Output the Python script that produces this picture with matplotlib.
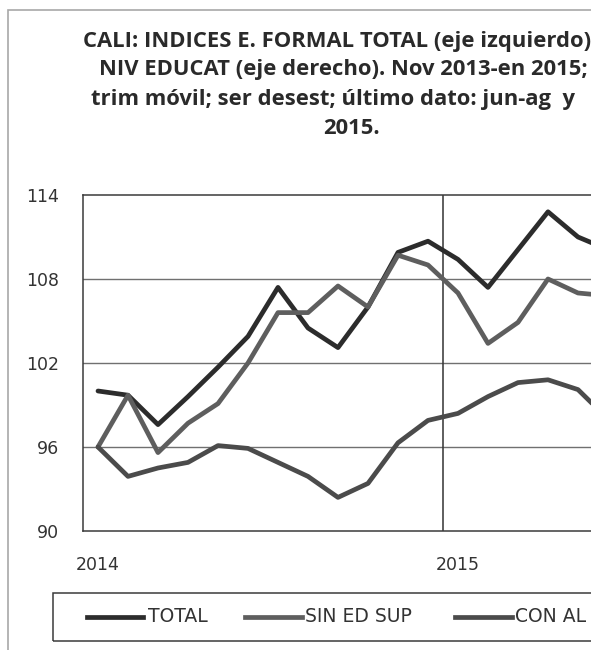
import matplotlib
matplotlib.use('Agg')
import matplotlib.pyplot as plt
from matplotlib.lines import Line2D
from matplotlib.patches import Rectangle

# datos (parte visible)
total = [100.0, 99.7, 97.6, 99.6, 101.7, 103.9, 107.4, 104.5, 103.1, 106.0,
         109.9, 110.7, 109.4, 107.4, 110.1, 112.8, 111.0, 110.1]
sin_ed_sup = [96.0, 99.7, 95.6, 97.7, 99.1, 102.0, 105.6, 105.6, 107.5, 106.0,
              109.7, 109.0, 107.0, 103.4, 104.9, 108.0, 107.0, 106.8]
con_al = [96.0, 93.9, 94.5, 94.9, 96.1, 95.9, 94.9, 93.9, 92.4, 93.4,
          96.3, 97.9, 98.4, 99.6, 100.6, 100.8, 100.1, 98.0]
year_labels = ['2014', '2015']
year_pos = [0, 12]
series_names = ['TOTAL', 'SIN ED SUP', 'CON AL']
colors = ['#2c2c2c', '#5e5e5e', '#4b4b4b']

W, H = 591, 650
fig = plt.figure(figsize=(W / 100, H / 100), dpi=100)

def fx(px):
    return px / W

def fy(py):
    return 1 - py / H

txt = '#333333'

# marco exterior
fig.add_artist(Rectangle((fx(7.5), fy(700)), fx(800), fy(10) - fy(700),
                         transform=fig.transFigure, fill=False,
                         edgecolor='#a8a8a8', lw=1.2))

# titulo (cortado a la derecha como en la captura)
title_lines = [
    (83, 42, 'CALI: INDICES E. FORMAL TOTAL (eje izquierdo) y POR'),
    (99, 70, 'NIV EDUCAT (eje derecho). Nov 2013-en 2015;'),
    (91, 99, 'trim móvil; ser desest; último dato: jun-ag  y'),
    (323, 128, '2015.'),
]
for x, y, s in title_lines:
    fig.text(fx(x), fy(y), s, ha='left', va='center', fontsize=15.8,
             fontweight='bold', family='Open Sans', color='#2a2a2a')

n = len(total)
ax = fig.add_axes([fx(83), fy(531), n * 30 / W, (531 - 195) / H])
x = list(range(n))
for vals, c in zip([total, sin_ed_sup, con_al], colors):
    ax.plot(x, vals, color=c, lw=3.4, solid_joinstyle='round', solid_capstyle='round')

ax.set_xlim(-0.5, n - 0.5)
ax.set_ylim(90, 114)
ax.set_yticks([90, 96, 102, 108, 114])
ax.set_xticks(year_pos)
ax.set_xticklabels(year_labels)
for yv in [96, 102, 108]:
    ax.axhline(yv, color='#707070', lw=1.0, zorder=0)
ax.axvline(11.5, color='#333333', lw=1.1, zorder=0)
ax.tick_params(axis='both', length=0, labelsize=12.5, colors=txt)
ax.tick_params(axis='y', pad=17)
ax.tick_params(axis='x', pad=18)
for side in ['left', 'top', 'bottom']:
    ax.spines[side].set_color('#3a3a3a')
    ax.spines[side].set_linewidth(1.1)
ax.spines['right'].set_visible(False)

# leyenda
fig.add_artist(Rectangle((fx(53), fy(641)), fx(800), fy(593) - fy(641),
                         transform=fig.transFigure, fill=False,
                         edgecolor='#3a3a3a', lw=1.1))
leg = [(87, 143, 148), (245, 302, 305), (455, 512, 515)]
for (x0, x1, xt), name, c in zip(leg, series_names, colors):
    fig.add_artist(Line2D([fx(x0), fx(x1)], [fy(617), fy(617)],
                          transform=fig.transFigure, color=c, lw=3.4))
    fig.text(fx(xt), fy(617), name, ha='left', va='center', fontsize=13.5,
             color=txt)

fig.savefig('out.png', dpi=100)
